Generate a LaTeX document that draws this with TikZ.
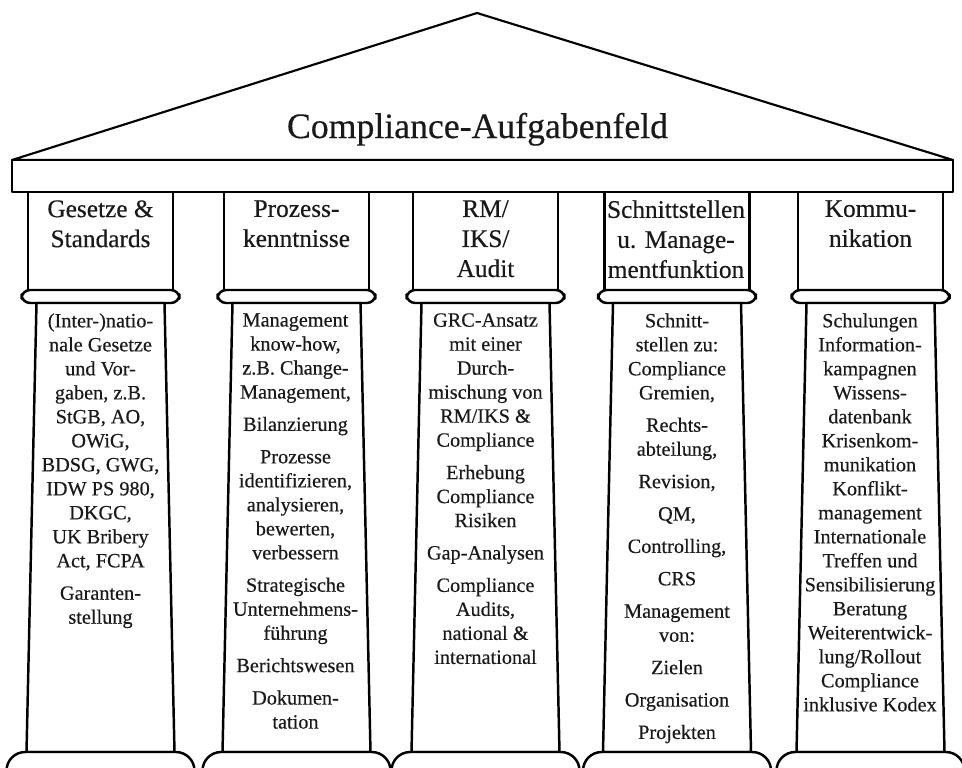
\documentclass[tikz,border=0pt]{standalone}
\usepackage{fontspec}
\setmainfont{Liberation Serif}[FakeBold=0.35]
\begin{document}
\begin{tikzpicture}[x=0.75pt,y=-0.75pt,line join=round,
  part/.style={draw=black,line width=1.85pt,fill=white},
  roofline/.style={draw=black,line width=1.6pt,fill=white},
  titletext/.style={inner sep=0pt,anchor=base,font=\fontsize{26.8}{30}\selectfont,text=black!90},
  headtext/.style={align=center,inner sep=0pt,anchor=north,font=\fontsize{19}{22.5}\selectfont,text=black!90},
  bodytext/.style={align=center,inner sep=0pt,anchor=north,font=\fontsize{15.2}{18}\selectfont,text=black!90}]
\useasboundingbox (0,0) rectangle (962,767);
\clip (0,0) rectangle (962,767);

% pediment and beam
\draw[roofline] (12,160) -- (477,13) -- (953,160) -- cycle;
\draw[part] (12,160) rectangle (953,192);
\node[titletext] (title) at (477.5,138) {Compliance-Aufgabenfeld};

% five columns: block, capital, tapered shaft, base
\foreach \c in {100.5,296.5,485.5,677,870.5}{
  \draw[part] ({\c-72.5},192) rectangle ({\c+72.5},290);
  \draw[part,rounded corners=6.5] ({\c-79},290) rectangle ({\c+79},303);
  \draw[part] ({\c-64},303) -- ({\c+64},303) -- ({\c+74},752) -- ({\c-74},752) -- cycle;
  \draw[part,rounded corners=14] ({\c-94},800) -- ({\c-94},752) -- ({\c+94},752) -- ({\c+94},800);
}

% column headings
\node[headtext] (h1) at (100.5,200) {Gesetze \&\\Standards};
\node[headtext] (h2) at (296.5,200) {Prozess-\\kenntnisse};
\node[headtext] (h3) at (485.5,200) {RM/\\IKS/\\Audit};
\node[headtext] (h4) at (676,200) {Schnittstellen\\u. Manage-\\mentfunktion};
\node[headtext] (h5) at (870.5,200) {Kommu-\\nikation};

% column contents
\node[bodytext] (b1) at (100.5,313) {(Inter-)natio-\\nale Gesetze\\und Vor-\\gaben, z.B.\\StGB, AO,\\OWiG,\\BDSG, GWG,\\IDW PS 980,\\DKGC,\\UK Bribery\\Act, FCPA\\[6.3pt]Garanten-\\stellung};
\node[bodytext] (b2) at (295.5,313) {Management\\know-how,\\z.B. Change-\\Management,\\[6.3pt]Bilanzierung\\[6.3pt]Prozesse\\identifizieren,\\analysieren,\\bewerten,\\verbessern\\[6.3pt]Strategische\\Unternehmens-\\führung\\[6.3pt]Berichtswesen\\[6.3pt]Dokumen-\\tation};
\node[bodytext] (b3) at (485.5,313) {GRC-Ansatz\\mit einer\\Durch-\\mischung von\\RM/IKS \&\\Compliance\\[6.3pt]Erhebung\\Compliance\\Risiken\\[6.3pt]Gap-Analysen\\[6.3pt]Compliance\\Audits,\\national \&\\international};
\node[bodytext] (b4) at (677,313) {Schnitt-\\stellen zu:\\Compliance\\Gremien,\\[6.3pt]Rechts-\\abteilung,\\[6.3pt]Revision,\\[6.3pt]QM,\\[6.3pt]Controlling,\\[6.3pt]CRS\\[6.3pt]Management\\von:\\[6.3pt]Zielen\\[6.3pt]Organisation\\[6.3pt]Projekten};
\node[bodytext] (b5) at (870,313) {Schulungen\\Information-\\kampagnen\\Wissens-\\datenbank\\Krisenkom-\\munikation\\Konflikt-\\management\\Internationale\\Treffen und\\Sensibilisierung\\Beratung\\Weiterentwick-\\lung/Rollout\\Compliance\\inklusive Kodex};
\end{tikzpicture}
\end{document}
